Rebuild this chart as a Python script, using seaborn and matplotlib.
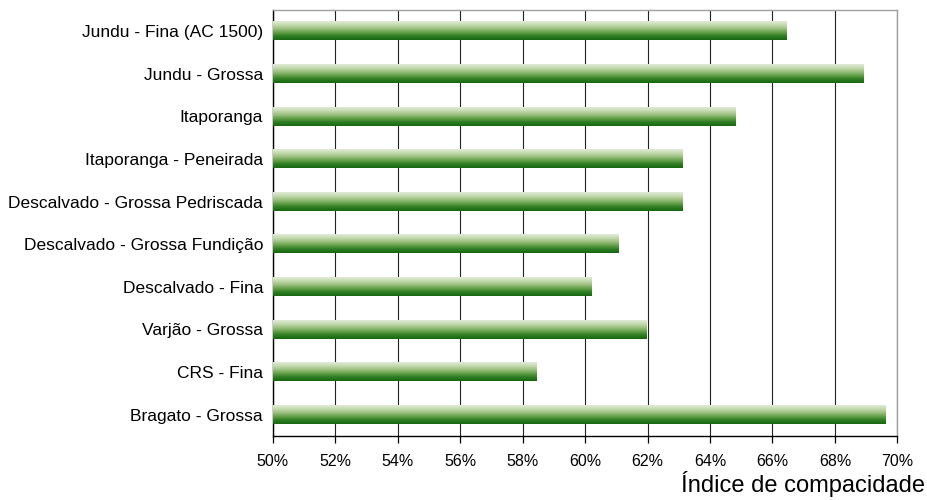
import numpy as np
import pandas as pd
import seaborn as sns
import matplotlib.pyplot as plt
from matplotlib.colors import LinearSegmentedColormap
from matplotlib.ticker import MultipleLocator, FuncFormatter

categorias = [
    "Jundu - Fina (AC 1500)",
    "Jundu - Grossa",
    "Itaporanga",
    "Itaporanga - Peneirada",
    "Descalvado - Grossa Pedriscada",
    "Descalvado - Grossa Fundição",
    "Descalvado - Fina",
    "Varjão - Grossa",
    "CRS - Fina",
    "Bragato - Grossa",
]
indice = [66.45, 68.9, 64.8, 63.12, 63.12, 61.08, 60.2, 61.95, 58.45, 69.62]

df = pd.DataFrame({"areia": categorias, "indice": indice})

sns.set_style("white")
plt.rcParams["font.family"] = ["Liberation Sans", "DejaVu Sans"]

fig = plt.figure(figsize=(9.28, 5.0), dpi=100)
ax = fig.add_axes([0.294, 0.128, 0.673, 0.852])

sns.barplot(data=df, x="indice", y="areia", orient="h", width=0.43,
            color="#4a8a3a", ax=ax, zorder=3)

xmin, xmax = 50, 70

# gradient fill (light on top, dark green at the bottom)
cmap = LinearSegmentedColormap.from_list(
    "verde", ["#e2ecd8", "#c3d9ae", "#9cc07f", "#63a04a", "#2e7c22", "#16690f"])
grad = np.linspace(0, 1, 64).reshape(-1, 1)
for p in ax.patches:
    x0, y0 = p.get_x(), p.get_y()
    w, h = p.get_width(), p.get_height()
    p.set_visible(False)
    ax.imshow(grad, cmap=cmap, aspect="auto", zorder=3,
              extent=(max(x0, xmin), x0 + w, y0 + h, y0),
              interpolation="bilinear")

ax.set_xlim(xmin, xmax)
ax.set_ylim(len(categorias) - 0.5, -0.5)

ax.xaxis.set_major_locator(MultipleLocator(2))
ax.xaxis.set_major_formatter(FuncFormatter(lambda v, _: f"{v:.0f}%"))
ax.grid(axis="x", color="#222222", linewidth=0.8, zorder=0)
ax.set_axisbelow(True)

ax.set_yticks(np.arange(len(categorias)))
ax.set_yticklabels(categorias)
ax.set_yticks(np.arange(len(categorias) + 1) - 0.5, minor=True)
ax.tick_params(axis="y", which="major", length=0, pad=7, labelsize=12.5,
               colors="#000000")
ax.tick_params(axis="y", which="minor", length=5, width=0.9, direction="out",
               color="#000000")
ax.tick_params(axis="x", length=5, width=0.9, direction="out", pad=8,
               labelsize=11.5, colors="#000000", bottom=True)

for s in ["left", "bottom"]:
    ax.spines[s].set_color("#000000")
    ax.spines[s].set_linewidth(1.0)
for s in ["top", "right"]:
    ax.spines[s].set_color("#a0a0a0")
    ax.spines[s].set_linewidth(1.0)

ax.set_ylabel("")
ax.set_xlabel("")
fig.text(0.997, 0.006, "Índice de compacidade", ha="right", va="bottom",
         fontsize=17, color="#000000")

plt.savefig("out.png", dpi=100)
